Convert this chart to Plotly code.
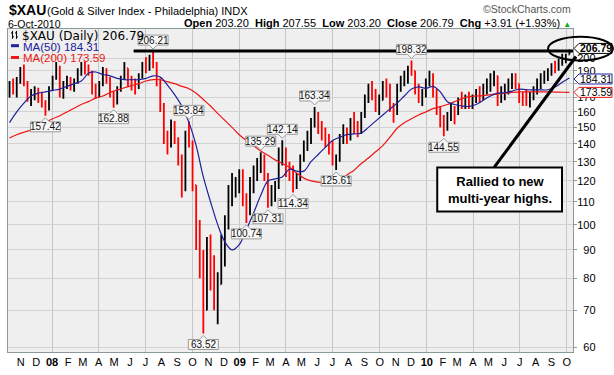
import numpy as np
import pandas as pd
import plotly.graph_objects as go

# ---------------- data (weekly bars) ----------------
bar_dates = pd.date_range("2007-10-10", periods=157, freq="7D")

opens = [172, 178, 175, 183, 189, 180, 170, 173, 175, 170, 166, 162, 176, 184, 192, 175, 180, 183, 178, 182,
         190, 195, 192, 189, 175, 172, 180, 190, 184, 172, 166, 176, 184, 192, 182, 180, 178, 186, 195, 192,
         200, 195, 182, 165, 145, 140, 150, 143, 132, 118, 145, 140, 118, 95, 85, 70, 88, 80, 75, 78,
         92, 100, 114, 118, 120, 124, 112, 106, 118, 124, 128, 132, 122, 112, 114, 118, 134, 136, 126, 124,
         118, 122, 132, 140, 142, 152, 158, 150, 148, 142, 138, 130, 132, 144, 148, 144, 152, 150, 148, 158,
         170, 176, 172, 164, 168, 180, 174, 164, 160, 178, 182, 186, 192, 190, 176, 170, 172, 182, 186, 174,
         162, 154, 150, 156, 162, 160, 168, 166, 170, 164, 170, 172, 170, 178, 182, 184, 186, 170, 174, 176,
         182, 184, 180, 170, 170, 168, 172, 176, 182, 184, 188, 190, 194, 192, 198, 200, 203.20]
highs = [182, 184, 185, 193, 195, 182, 176, 178, 177, 174, 168, 178, 186, 197, 194, 182, 186, 185, 184, 192,
         197, 197, 195, 190, 180, 182, 193, 192, 185, 174, 178, 186, 197, 192, 186, 184, 188, 197, 201, 203,
         206.21, 197, 184, 166, 148, 155, 154, 144, 134, 148, 153.84, 142, 118, 102, 90, 95, 96, 88, 82, 96,
         104, 118, 124, 122, 126, 126, 114, 122, 128, 132, 135.29, 134, 124, 118, 120, 138, 142.14, 138, 130, 128,
         124, 134, 142, 148, 156, 163.34, 160, 154, 150, 146, 142, 134, 146, 152, 150, 156, 160, 154, 160, 172,
         180, 182, 176, 172, 182, 184, 180, 166, 180, 186, 190, 194, 198.32, 190, 180, 176, 184, 190, 188, 176,
         164, 158, 160, 166, 164, 170, 174, 172, 174, 172, 176, 178, 180, 184, 188, 190, 186, 178, 180, 184,
         188, 188, 180, 174, 176, 174, 178, 184, 188, 190, 192, 196, 198, 200, 204, 204, 207.55]
lows = [170, 172, 170, 180, 178, 167, 164, 168, 166, 163, 157.42, 161, 175, 183, 170, 169, 176, 175, 174, 180,
        186, 187, 186, 172, 169, 170, 178, 180, 170, 162.88, 165, 174, 183, 178, 175, 172, 176, 184, 188, 190,
        192, 178, 160, 140, 134, 138, 140, 128, 112, 115, 138, 115, 90, 80, 63.52, 70, 76, 70, 66, 78,
        84, 98, 108, 112, 114, 108, 100.74, 104, 114, 120, 124, 120, 107.31, 108, 110, 116, 128, 122, 120, 114.34,
        116, 120, 130, 136, 140, 150, 146, 142, 138, 134, 128, 125.61, 130, 140, 140, 142, 146, 144, 146, 156,
        166, 168, 160, 158, 168, 170, 160, 153, 158, 174, 178, 180, 186, 172, 166, 164, 170, 178, 170, 158,
        150, 144.55, 148, 154, 152, 158, 162, 162, 162, 162, 166, 166, 168, 172, 174, 178, 164, 166, 168, 172,
        176, 176, 166, 164, 164, 163, 168, 172, 176, 180, 182, 186, 188, 190, 194, 196, 203.20]
closes = [178, 175, 183, 189, 180, 170, 173, 175, 170, 166, 162, 176, 184, 192, 175, 180, 183, 178, 182, 190,
          195, 192, 189, 175, 172, 180, 190, 184, 172, 166, 176, 184, 192, 182, 180, 178, 186, 195, 192, 200,
          195, 182, 165, 145, 140, 150, 143, 132, 118, 145, 140, 118, 95, 85, 70, 88, 80, 75, 78, 92,
          100, 114, 118, 120, 124, 112, 106, 118, 124, 128, 132, 122, 112, 114, 118, 134, 136, 126, 124, 118,
          122, 132, 140, 142, 152, 158, 150, 148, 142, 138, 130, 132, 144, 148, 144, 152, 150, 148, 158, 170,
          176, 172, 164, 168, 180, 174, 164, 160, 178, 182, 186, 192, 190, 176, 170, 172, 182, 186, 174, 162,
          154, 150, 156, 162, 160, 168, 166, 170, 164, 170, 172, 170, 178, 182, 184, 186, 170, 174, 176, 182,
          184, 180, 170, 170, 168, 172, 176, 182, 184, 188, 190, 194, 192, 198, 200, 202.88, 206.79]

ma_dates = bar_dates[::2]
ma50 = [153, 160, 166, 171, 173, 174, 175, 176, 178, 180, 182, 188, 189, 187, 186, 184, 183, 183, 183, 184,
        186, 185, 179, 172, 164, 153, 139, 122, 110, 100, 93, 90, 92, 98, 105, 113, 120, 121, 122, 126,
        125, 125, 130, 134, 138, 142, 144, 145.5, 146, 146.5, 150, 154, 158, 162, 166, 171, 176, 177.6, 176.5, 178,
        174, 167, 165, 164, 163.7, 165, 168, 171, 173, 173.3, 174.5, 176, 175.5, 175.4, 175.4, 175.5, 177.5, 181, 184.31]
ma200 = [143.5, 145.5, 147, 148.3, 150.5, 153, 155.5, 157.5, 160, 162.5, 165, 167, 169.5, 171, 173.5, 175.3, 177, 178.5, 180, 182,
         183, 183, 181.5, 180, 178, 176.3, 173, 168.5, 164, 159, 154.5, 150, 145.5, 142, 139, 136, 133.5, 131, 129, 127,
         124, 121.4, 120, 119.4, 119.1, 119.2, 120, 123, 125.5, 129, 132, 135.5, 139, 144, 149.5, 153, 155.5, 158, 160, 162.2,
         163.5, 165, 167, 169, 170.5, 171, 171.3, 172, 172.5, 173, 173.6, 174, 174, 174, 174, 174, 173.8, 173.7, 173.59]

month_ticks = pd.date_range("2007-11-01", "2010-10-01", freq="MS")
month_text = ["N", "D",
              "<b>08</b>", "F", "M", "A", "M", "J", "J", "A", "S", "O", "N", "D",
              "<b>09</b>", "F", "M", "A", "M", "J", "J", "A", "S", "O", "N", "D",
              "<b>10</b>", "F", "M", "A", "M", "J", "J", "A", "S", "O"]
quarter_grid = pd.date_range("2008-01-01", "2010-10-01", freq="QS")
y_ticks = [60, 70, 80, 90, 100, 110, 120, 130, 140, 150, 160, 170, 180, 190, 200]
y_hidden = [180]  # covered by the MA(50) value tag in the original

pivot_dates = ["2007-12-19", "2008-04-30", "2008-07-16", "2008-09-24", "2008-10-22", "2009-01-14",
               "2009-02-11", "2009-02-25", "2009-03-25", "2009-04-15", "2009-05-27", "2009-07-08",
               "2009-12-02", "2010-02-03"]
pivot_values = [157.42, 162.88, 206.21, 153.84, 63.52, 100.74, 135.29, 107.31, 142.14, 114.34,
                163.34, 125.61, 198.32, 144.55]
pivot_side = ["below", "below", "above", "above", "below", "below", "above", "below", "above",
              "below", "above", "below", "above", "below"]

last_close = 206.79
last_ma50 = 184.31
last_ma200 = 173.59
resistance = 206.21

# ---------------- figure ----------------
FONT = "Liberation Sans, Arial, sans-serif"
L, R, T, B = 7, 573, 29, 358
W, H = 614, 375


def px(x):
    return (x - L) / (R - L)


def py(y):
    return (B - y) / (B - T)


fig = go.Figure()
fig.add_trace(go.Scatter(x=ma_dates, y=ma200, mode="lines", line=dict(color="#ee1515", width=1.2, shape="spline"),
                         hoverinfo="skip"))
fig.add_trace(go.Ohlc(x=bar_dates, open=opens, high=highs, low=lows, close=closes,
                      increasing=dict(line=dict(color="#000000", width=1.8)),
                      decreasing=dict(line=dict(color="#ff0000", width=1.8)),
                      tickwidth=0.25, hoverinfo="skip"))
fig.add_trace(go.Scatter(x=ma_dates, y=ma50, mode="lines", line=dict(color="#20209a", width=1.2, shape="spline"),
                         hoverinfo="skip"))

shapes = []
annotations = []


def text(x, y, s, size, color="#000", family=FONT, xanchor="left"):
    annotations.append(dict(x=px(x), y=py(y), xref="paper", yref="paper", xanchor=xanchor, yanchor="middle",
                            showarrow=False, text=s, font=dict(family=family, size=size, color=color)))


# resistance line
shapes.append(dict(type="line", xref="x", yref="y", x0="2008-06-08", x1="2010-10-13",
                   y0=resistance, y1=resistance, line=dict(color="black", width=3)))

# pivot labels with notch
for d, v, s in zip(pivot_dates, pivot_values, pivot_side):
    sg = -1 if s == "below" else 1
    path = (f"M -15,{sg*6} L -4,{sg*6} L 0,{sg*2} L 4,{sg*6} L 15,{sg*6} "
            f"L 15,{sg*16} L -15,{sg*16} Z")
    shapes.append(dict(type="path", xref="x", yref="y", xsizemode="pixel", ysizemode="pixel",
                       xanchor=d, yanchor=v, path=path, fillcolor="#f7f7f7",
                       line=dict(color="#9a9a9a", width=1)))
    annotations.append(dict(x=d, y=np.log10(v), xref="x", yref="y", text=f"{v:.2f}", showarrow=False,
                            xanchor="center", yanchor="middle",
                            yshift=sg * 11, font=dict(family=FONT, size=10, color="#111")))

# right-hand value labels
for v, col, bold, dy in [(last_ma200, "#ee1515", False, 0), (last_ma50, "#20209a", False, -1),
                         (last_close, "#000000", True, 2)]:
    path = f"M 1,{dy} L 6,{dy+5} L 39,{dy+5} L 39,{dy-5} L 6,{dy-5} Z"
    shapes.append(dict(type="path", xref="paper", yref="y", xsizemode="pixel", ysizemode="pixel",
                       xanchor=1, yanchor=v, path=path, fillcolor="white",
                       line=dict(color=col, width=1)))
    txt = f"<b>{v:.2f}</b>" if bold else f"{v:.2f}"
    annotations.append(dict(x=1, y=np.log10(v), xref="paper", yref="y", text=txt, showarrow=False,
                            xanchor="center", yanchor="middle", xshift=23, yshift=dy,
                            font=dict(family=FONT, size=10.5, color="#000")))

# ellipse around last price
shapes.append(dict(type="circle", xref="paper", yref="paper", x0=px(548), x1=px(613), y0=py(61), y1=py(37),
                   line=dict(color="black", width=2)))

# callout box and pointer line
shapes.append(dict(type="line", xref="paper", yref="paper", x0=px(494), y0=py(170), x1=px(576), y1=py(57),
                   line=dict(color="black", width=3)))
shapes.append(dict(type="rect", xref="paper", yref="paper", x0=px(437), x1=px(562), y0=py(215), y1=py(170),
                   fillcolor="white", line=dict(color="black", width=2)))
annotations.append(dict(x=px(499.5), y=py(192.5), xref="paper", yref="paper", showarrow=False,
                        xanchor="center", yanchor="middle",
                        text="<b>Rallied to new<br>multi-year highs.</b>",
                        font=dict(family=FONT, size=13, color="black"), align="center"))

# legend inside plot
shapes.append(dict(type="line", xref="paper", yref="paper", x0=px(10), x1=px(18), y0=py(46), y1=py(46),
                   line=dict(color="#20209a", width=3)))
shapes.append(dict(type="line", xref="paper", yref="paper", x0=px(10), x1=px(18), y0=py(58), y1=py(58),
                   line=dict(color="#ee1515", width=3)))
for xx in (11.5, 15.5):
    shapes.append(dict(type="line", xref="paper", yref="paper", x0=px(xx), x1=px(xx), y0=py(39), y1=py(31),
                       line=dict(color="black", width=1)))
    shapes.append(dict(type="line", xref="paper", yref="paper", x0=px(xx - 1.5), x1=px(xx), y0=py(33), y1=py(33),
                       line=dict(color="black", width=1)))
    shapes.append(dict(type="line", xref="paper", yref="paper", x0=px(xx), x1=px(xx + 1.5), y0=py(37), y1=py(37),
                       line=dict(color="black", width=1)))
text(19, 36, f"$XAU (Daily) {last_close:.2f}", 12, family="DejaVu Sans, Verdana, sans-serif")
text(20, 47, f"MA(50) {last_ma50:.2f}", 11.5, color="#20209a")
text(20, 59, f"MA(200) {last_ma200:.2f}", 11.5, color="#ee1515")

# header
text(6, 10, "<b>$XAU</b>", 14)
text(44, 11, "(Gold &amp; Silver Index - Philadelphia) INDX", 11)
text(5, 23.5, "6-Oct-2010", 10.5)
text(573, 23, ("<b>Open</b> 203.20\u00a0 <b>High</b> 207.55\u00a0 <b>Low</b> 203.20\u00a0 "
               "<b>Close</b> 206.79\u00a0 <b>Chg</b> +3.91 (+1.93%) "
               "<span style='color:#11aa11;font-size:8px'>\u25b2</span>"), 11, xanchor="right")
text(573, 9, "\u00a9StockCharts.com", 10.5, color="#555", xanchor="right")

fig.update_layout(
    width=W, height=H, margin=dict(l=L, r=W - R, t=T, b=H - B),
    paper_bgcolor="white", plot_bgcolor="#efefef", showlegend=False,
    font=dict(family=FONT, size=11, color="#000"),
    shapes=shapes, annotations=annotations,
)
fig.update_xaxes(type="date", range=["2007-10-07", "2010-10-13"], rangeslider_visible=False,
                 tickmode="array", tickvals=month_ticks, ticktext=month_text, showgrid=False,
                 ticks="", tickfont=dict(family=FONT, size=11, color="#000"),
                 showline=True, linecolor="#8a9a9a", mirror=True, zeroline=False,
                 minor=dict(tickmode="array", tickvals=quarter_grid, showgrid=True,
                            gridcolor="#c6c6c6", gridwidth=1, ticks=""))
fig.update_yaxes(type="log", side="right", range=[np.log10(58.8), np.log10(226.1)],
                 tickmode="array", tickvals=y_ticks,
                 ticktext=["" if v in y_hidden else (("\u2007" + str(v)) if v < 100 else str(v)) for v in y_ticks],
                 showgrid=True, gridcolor="#d2d2d2", gridwidth=1,
                 ticks="outside", ticklen=3, tickcolor="#8a9a9a", ticklabelstandoff=-2,
                 tickfont=dict(family=FONT, size=11, color="#000"),
                 showline=True, linecolor="#8a9a9a", mirror=True, zeroline=False)

fig.write_html("out.html", config={"displayModeBar": False},
               post_script="document.body.style.margin='0px';")
